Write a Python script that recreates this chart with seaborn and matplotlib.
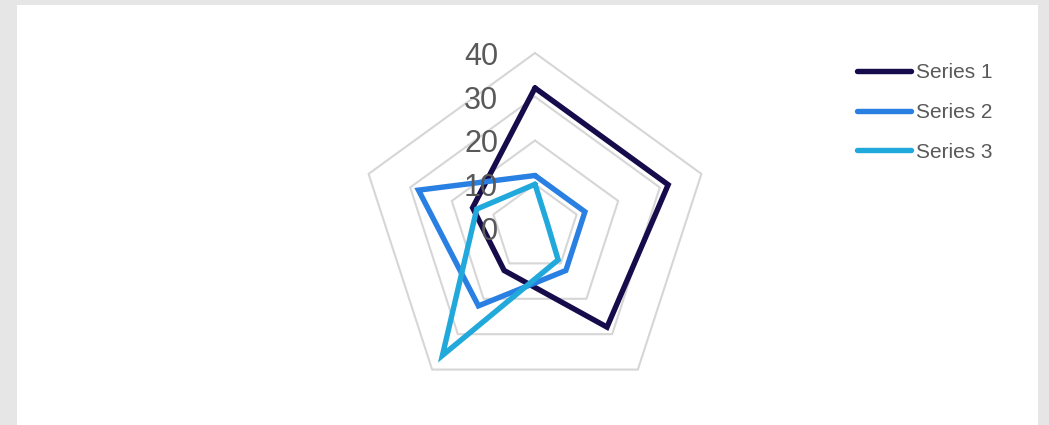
import numpy as np
import pandas as pd
import matplotlib
matplotlib.use("Agg")
import matplotlib.pyplot as plt
from matplotlib.patches import Rectangle
import seaborn as sns

# radar data, 5 spokes clockwise from top
spokes = ["A", "B", "C", "D", "E"]
series_1 = [32, 32, 28, 12, 15]
series_2 = [12, 12, 12, 22, 28]
series_3 = [10, 3, 9, 36, 14]
series_names = ["Series 1", "Series 2", "Series 3"]
rings = [10, 20, 30, 40]
ring_labels = ["0", "10", "20", "30", "40"]
colors = ["#160c4b", "#2a80e2", "#22a9dc"]

sns.set_theme(style="white")
plt.rcParams["font.family"] = ["Liberation Sans", "DejaVu Sans"]

W, H = 1049, 425
fig = plt.figure(figsize=(W / 100, H / 100), dpi=100)
fig.patch.set_facecolor("#e6e6e6")
fig.patches.append(Rectangle((17 / W, 0), (1038 - 17) / W, (H - 5) / H,
                             transform=fig.transFigure, facecolor="white",
                             edgecolor="none", zorder=-10))

ax = fig.add_axes([0, 0, 1, 1])
ax.set_facecolor("none")
cx, cy, rpx, rmax = 535, 228, 175, 40
k = rmax / rpx
ax.set_xlim(-cx * k, (W - cx) * k)
ax.set_ylim(-(H - cy) * k, cy * k)
ax.axis("off")

ang = np.pi / 2 - np.arange(len(spokes)) * 2 * np.pi / len(spokes)
ang_c = np.append(ang, ang[0])

# pentagon grid
for r in rings:
    ax.plot(r * np.cos(ang_c), r * np.sin(ang_c), color="#d6d6d6", lw=1.5, zorder=1)

rows = []
for name, vals in zip(series_names, [series_1, series_2, series_3]):
    v = np.append(vals, vals[0])
    for i, (a, r) in enumerate(zip(ang_c, v)):
        rows.append({"series": name, "order": i, "x": r * np.cos(a), "y": r * np.sin(a)})
df = pd.DataFrame(rows)

sns.lineplot(data=df, x="x", y="y", hue="series", units="series", estimator=None,
             sort=False, palette=colors, linewidth=3.9, ax=ax, zorder=3,
             solid_joinstyle="miter")

for i, lab in enumerate(ring_labels):
    ax.text(-37 * k, i * 10 - 0.9, lab, ha="right", va="center", fontsize=22,
            color="#595959", zorder=4)

ax.legend(loc="upper left", bbox_to_anchor=(857 / W, 1 - 63 / H),
          bbox_transform=fig.transFigure, frameon=False, fontsize=15,
          handlelength=2.6, handletextpad=0.24, labelspacing=1.0,
          borderpad=0, borderaxespad=0, labelcolor="#595959")

fig.savefig("out.png", dpi=100, facecolor=fig.get_facecolor())
